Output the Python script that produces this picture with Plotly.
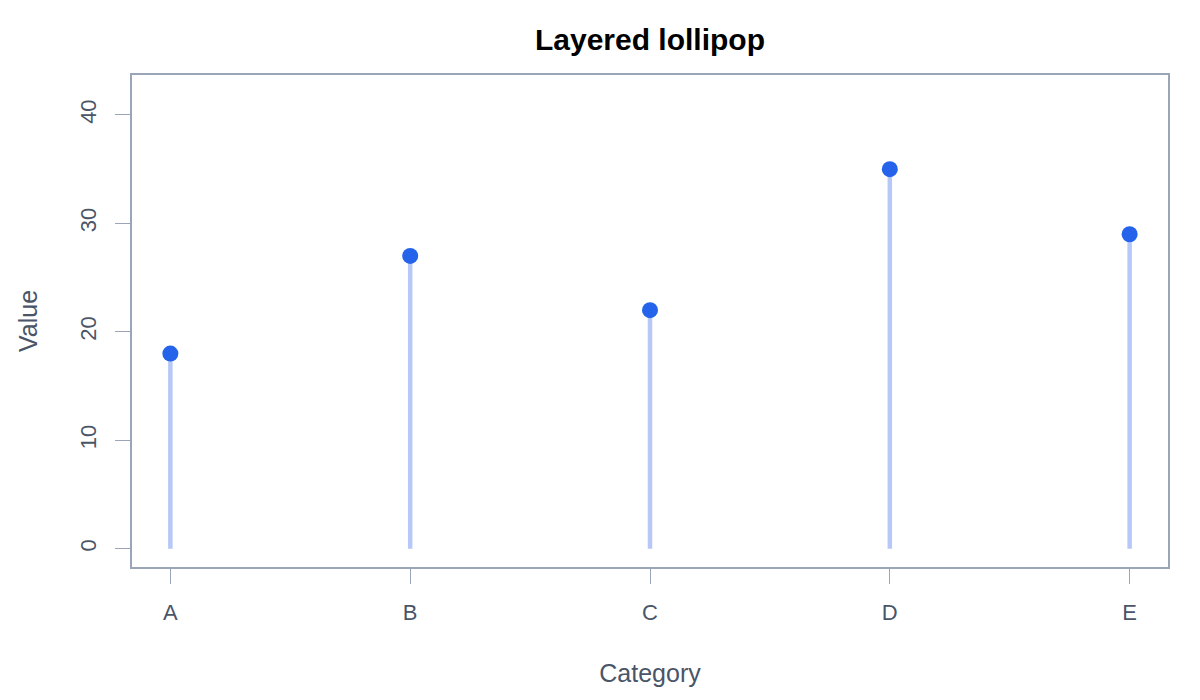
import plotly.graph_objects as go

# lollipop data
categories = ["A", "B", "C", "D", "E"]
values = [18, 27, 22, 35, 29]
positions = [1, 2, 3, 4, 5]

y_ticks = [0, 10, 20, 30, 40]

axis_color = "#9aa5b8"
text_color = "#4a5568"


def stem_coords(xs, ys):
    # build x/y lists for vertical stems, split by None
    sx, sy = [], []
    for x, y in zip(xs, ys):
        sx += [x, x, None]
        sy += [0, y, None]
    return sx, sy


stem_x, stem_y = stem_coords(positions, values)

fig = go.Figure()

fig.add_trace(go.Scatter(
    x=stem_x, y=stem_y,
    mode="lines",
    line=dict(color="#b6c8f8", width=4.5),
    hoverinfo="skip",
    showlegend=False,
))

fig.add_trace(go.Scatter(
    x=positions, y=values,
    mode="markers",
    marker=dict(color="#2563eb", size=16),
    showlegend=False,
))

fig.update_layout(
    width=1200, height=700,
    paper_bgcolor="white", plot_bgcolor="white",
    margin=dict(l=124, r=40, t=67, b=141, autoexpand=False),
    font=dict(family="Liberation Sans, Arial, sans-serif", size=22, color=text_color),
    title=dict(text="<b>Layered lollipop</b>", x=0.5, xanchor="center", xref="paper",
               y=0.955, yanchor="middle",
               font=dict(size=30, color="black")),
)

fig.update_xaxes(
    range=[0.84, 5.16],
    tickvals=positions, ticktext=categories,
    showgrid=False, zeroline=False,
    showline=True, mirror=True, linecolor=axis_color, linewidth=1.5,
    ticks="outside", ticklen=15, tickcolor=axis_color, tickwidth=1,
    ticklabelstandoff=10,
    title=dict(text="Category", standoff=40, font=dict(size=25)),
    automargin=False,
)

fig.update_yaxes(
    range=[-1.68, 43.68],
    tickvals=y_ticks,
    tickangle=-90,
    showgrid=False, zeroline=False,
    showline=True, mirror=True, linecolor=axis_color, linewidth=1.5,
    ticks="outside", ticklen=15, tickcolor=axis_color, tickwidth=1,
    ticklabelstandoff=10,
    title=dict(text="Value", standoff=32, font=dict(size=25)),
    automargin=False,
)

fig.write_html("out.html")
